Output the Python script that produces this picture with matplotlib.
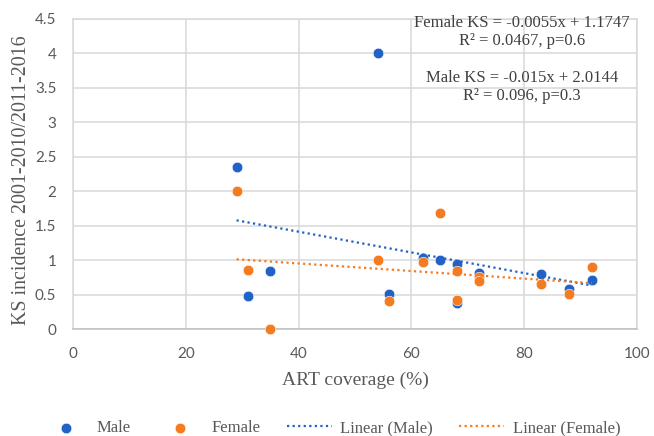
import matplotlib
matplotlib.use('Agg')
from matplotlib import pyplot as plt
from matplotlib.ticker import FuncFormatter
import numpy as np

# ART coverage (%) and KS incidence ratio
art_male = [29, 31, 35, 54, 56, 62, 65, 68, 68, 72, 83, 88, 92]
ks_male = [2.35, 0.48, 0.84, 4.0, 0.51, 1.04, 1.01, 0.95, 0.38, 0.82, 0.80, 0.58, 0.71]
art_female = [29, 31, 35, 54, 56, 62, 65, 68, 68, 72, 72, 83, 88, 92]
ks_female = [2.01, 0.855, 0.0, 1.01, 0.415, 0.97, 1.68, 0.845, 0.43, 0.76, 0.70, 0.65, 0.51, 0.90]

# trend line coefficients as printed on the chart
male_slope, male_icpt = -0.015, 2.0144
female_slope, female_icpt = -0.0055, 1.1747
trend_x = [29, 92]

note = ("Female KS = -0.0055x + 1.1747\nR\u00b2 = 0.0467, p=0.6\n\n"
        "Male KS = -0.015x + 2.0144\nR\u00b2 = 0.096, p=0.3")

blue = '#2262C6'
orange = '#F47B20'
grey_txt = '#595959'
grid_c = '#d9d9d9'

W, H = 654, 436
fig = plt.figure(figsize=(W / 100, H / 100), dpi=100)
fig.subplots_adjust(left=73 / W, right=637 / W, bottom=1 - 329.3 / H, top=1 - 18.8 / H)
ax = fig.add_subplot(111)

ax.set_xlim(0, 100)
ax.set_ylim(0, 4.5)
ax.set_xticks(np.arange(0, 101, 20))
ax.set_yticks(np.arange(0, 4.51, 0.5))
ax.yaxis.set_major_formatter(FuncFormatter(lambda v, p: '%g' % v))
ax.grid(True, color=grid_c, lw=1.1)
ax.set_axisbelow(True)
for s in ['top', 'right', 'left']:
    ax.spines[s].set_color(grid_c)
    ax.spines[s].set_linewidth(1.1)
ax.spines['bottom'].set_color('#bfbfbf')
ax.spines['bottom'].set_linewidth(1.1)
ax.tick_params(length=0, labelsize=11, labelcolor=grey_txt, labelfontfamily='Lato')
ax.tick_params(axis='x', pad=13)
ax.tick_params(axis='y', pad=12)

m1 = ax.scatter(art_male, ks_male, s=58, color=blue, edgecolor='white', linewidth=0.4,
                clip_on=False, zorder=3, label='Male')
m2 = ax.scatter(art_female, ks_female, s=58, color=orange, edgecolor='white', linewidth=0.4,
                clip_on=False, zorder=3, label='Female')

tx = np.array(trend_x, dtype=float)
l1, = ax.plot(tx, male_slope * tx + male_icpt, color=blue, lw=1.6,
              linestyle=(0, (1, 1.5)), zorder=4, label='Linear (Male)')
l2, = ax.plot(tx, female_slope * tx + female_icpt, color=orange, lw=1.6,
              linestyle=(0, (1, 1.5)), zorder=4, label='Linear (Female)')

ax.text(79.6, 3.91, note, ha='center', va='center', multialignment='center',
        fontsize=12, family='Liberation Serif', color='#404040', linespacing=1.2)

ax.set_xlabel('ART coverage (%)', fontsize=14, family='Liberation Serif', color=grey_txt)
ax.set_ylabel('KS incidence 2001-2010/2011-2016', fontsize=14.4, family='Liberation Serif',
              color=grey_txt)
ax.xaxis.set_label_coords(0.5, -(380 - 329.3) / 310.5)
ax.xaxis.label.set_va('center')
ax.yaxis.set_label_coords((22 - 73) / 564, (329.3 - 180) / 310.5)
ax.yaxis.label.set_va('center')

fig.legend(handles=[m1, m2, l1, l2], loc='center', bbox_to_anchor=(332 / W, 1 - 428 / H),
           ncol=4, frameon=False, handlelength=2.7, handletextpad=0.5, columnspacing=1.6,
           prop={'family': 'Liberation Serif', 'size': 12}, labelcolor=grey_txt,
           scatterpoints=1)

fig.savefig('out.png', dpi=100)
